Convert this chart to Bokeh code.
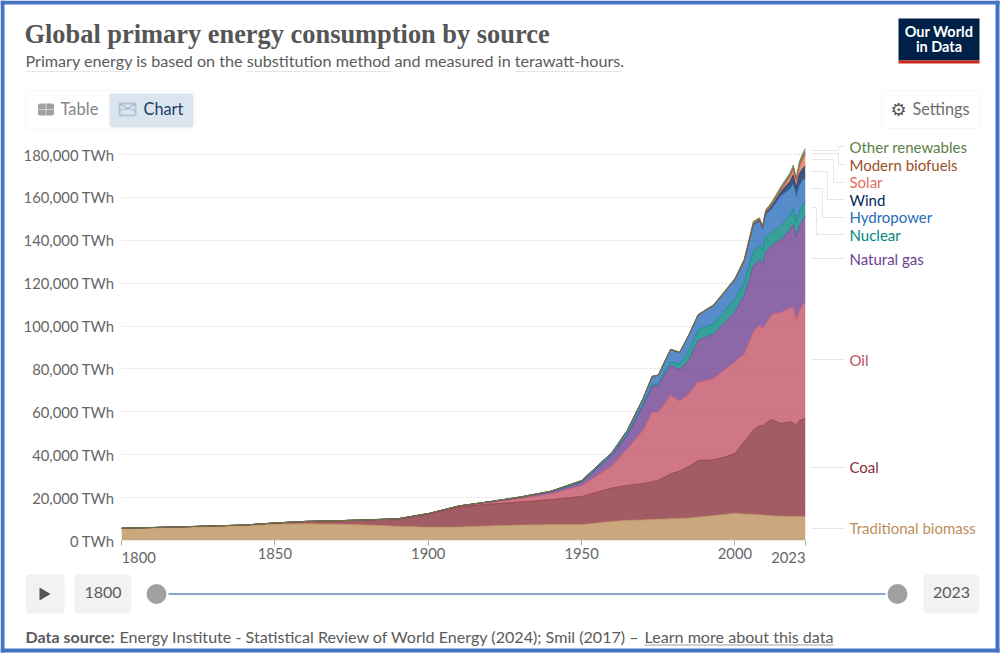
from bokeh.plotting import figure
from bokeh.layouts import column
from bokeh.models import (ColumnDataSource, Range1d, FixedTicker, Label, BoxAnnotation, PolyAnnotation)
from bokeh.embed import file_html
from bokeh.resources import INLINE

years = [1800,1820,1840,1850,1860,1870,1880,1890,1900,1910,1920,1930,1940,1950,1960,1965,1970,1973,1975,1979,1982,1985,1988,1993,1997,2000,2003,2006,2008,2009,2010,2012,2015,2018,2019,2020,2021,2022,2023]
biomass = [5600,6200,6900,7600,7800,7600,7200,6600,6200,6300,6800,7200,7400,7400,8900,9400,9600,9800,9900,10100,10300,10500,11000,11600,12200,12700,12400,12200,12000,11900,11800,11500,11300,11200,11200,11200,11200,11200,11200]
coal = [100,200,300,570,1100,1600,2400,3400,6100,9300,10200,10700,11700,13100,15600,16300,16900,17600,18100,20900,22100,24000,26300,26000,26800,27900,33600,39300,41500,41600,42900,44900,43200,44100,43600,42500,44800,45300,45700]
oil = [0,0,0,0,0,10,30,90,180,350,800,1700,2700,5100,10500,17300,24900,32500,31900,36700,32700,34000,36600,37900,41200,42600,41000,46000,47000,45500,46300,49100,52000,53200,54200,49500,51000,53500,54600]
gas = [0,0,0,0,0,0,10,30,60,150,230,550,900,1600,5000,6500,11400,12000,12500,14000,14600,15500,19500,20700,21800,23300,27000,30500,30300,29500,33400,31900,33700,36500,38200,38500,39500,39000,40000]
nuclear = [0,0,0,0,0,0,0,0,0,0,0,0,0,0,0,100,300,600,800,1600,2500,4500,4800,5000,5700,6200,6200,7000,6800,6700,7000,6300,6600,7000,7400,7000,7200,6900,6900]
hydro = [0,0,0,0,0,0,0,0,10,30,80,150,300,700,1200,2000,3000,4000,3900,5800,5500,7400,7000,8400,8800,9000,10000,12000,11200,10000,10500,11000,14000,12000,11800,11800,12000,12000,10800]
wind = [0,0,0,0,0,0,0,0,0,0,0,0,0,0,0,0,0,0,0,0,0,0,0,10,30,100,200,600,800,800,1000,1500,1900,3500,4000,4000,5200,5500,5500]
solar = [0,0,0,0,0,0,0,0,0,0,0,0,0,0,0,0,0,0,0,0,0,0,0,0,0,0,5,30,40,50,90,300,500,1800,2200,2700,3200,4000,5000]
biofuels = [0,0,0,0,0,0,0,0,0,0,0,0,0,0,0,0,0,0,0,20,30,50,50,60,80,100,150,400,400,300,500,550,800,1000,1100,1000,1100,1200,1300]
other = [0,0,0,0,0,0,0,0,0,0,0,0,0,20,40,50,60,70,70,80,100,150,200,250,300,400,600,800,500,500,700,800,1100,1300,1400,1300,1500,1600,2000]

series_names = ["Traditional biomass","Coal","Oil","Natural gas","Nuclear","Hydropower","Wind","Solar","Modern biofuels","Other renewables"]
series_colors = ["#BC8E5A","#883039","#C15065","#6D3E91","#00847E","#286BBB","#00295B","#E56E5A","#9A5129","#578145"]
y_ticks = [0,20000,40000,60000,80000,100000,120000,140000,160000,180000]
y_tick_labels = ["0 TWh","20,000 TWh","40,000 TWh","60,000 TWh","80,000 TWh","100,000 TWh","120,000 TWh","140,000 TWh","160,000 TWh","180,000 TWh"]
x_ticks = [1800,1850,1900,1950,2000,2023]

FONT = "Lato"
GREY = "#666666"

# page furniture: a full-window figure whose scale is the pixel grid of the window
bg = figure(width=1000, height=653, output_backend="svg", toolbar_location=None,
            x_range=Range1d(0,1000), y_range=Range1d(653,0), x_axis_type=None, y_axis_type=None,
            min_border=0, min_border_left=0, min_border_right=0, min_border_top=0, min_border_bottom=0,
            outline_line_color=None, margin=(0,0,0,0), frame_align=False)
bg.xgrid.visible = False
bg.ygrid.visible = False

# the chart itself, transparent, laid over the furniture
source = ColumnDataSource(dict(zip(["year"]+series_names,[years,biomass,coal,oil,gas,nuclear,hydro,wind,solar,biofuels,other])))
p = figure(width=1000, height=653, output_backend="svg", toolbar_location=None,
           x_range=Range1d(1800,2023), y_range=Range1d(0,185130),
           min_border_left=121, min_border_right=195, min_border_top=143, min_border_bottom=113,
           margin=(-653,0,0,0), outline_line_color=None, background_fill_color=None, border_fill_color=None,
           frame_align=False)

p.varea_stack(stackers=series_names, x="year", color=series_colors, fill_alpha=0.78, source=source)
p.vline_stack(stackers=series_names, x="year", color=series_colors, line_width=0.8, line_alpha=0.9, source=source)

p.xgrid.visible = False
p.ygrid.ticker = FixedTicker(ticks=y_ticks[1:])
p.ygrid.grid_line_color = "#dddddd"
p.ygrid.grid_line_dash = "2 2"
p.ygrid.level = "underlay"

ya = p.yaxis[0]
ya.ticker = FixedTicker(ticks=y_ticks)
ya.major_label_overrides = {t:l for t,l in zip(y_ticks,y_tick_labels)}
ya.axis_line_color = None
ya.major_tick_line_color = None
ya.minor_tick_line_color = None
ya.major_tick_in = 0
ya.major_tick_out = 0
ya.major_label_text_font = FONT
ya.major_label_text_font_size = "14.8px"
ya.major_label_text_color = GREY
ya.major_label_standoff = 7

xa = p.xaxis[0]
xa.ticker = FixedTicker(ticks=x_ticks)
xa.major_label_overrides = {1800:"",2023:""}
xa.axis_line_color = None
xa.major_tick_line_color = "#a8a8a8"
xa.minor_tick_line_color = None
xa.major_tick_in = 0
xa.major_tick_out = 5
xa.major_label_text_font = FONT
xa.major_label_text_font_size = "14.8px"
xa.major_label_text_color = GREY
xa.major_label_standoff = 2


def label(x, y, text, color=GREY, size=15, font=FONT, style="normal", align="left"):
    bg.add_layout(Label(x=x, y=y-1, text=text, text_color=color,
                        text_font=font, text_font_size=f"{size}px", text_font_style=style,
                        text_align=align, text_baseline="middle"))


def box(x0, y0, x1, y1, fill="#f2f2f2", line=None, radius=0):
    bg.add_layout(BoxAnnotation(left=x0, right=x1, top=y0, bottom=y1, fill_color=fill, fill_alpha=1,
                                line_color=line, line_width=1, border_radius=radius, level="underlay"))


def path(xs, ys, color="#cfcfcf", dash="solid", width=1.0):
    bg.add_layout(PolyAnnotation(xs=xs+xs[::-1], ys=ys+ys[::-1], fill_alpha=0,
                                 line_color=color, line_dash=dash, line_width=width, level="annotation"))

# frame of the screenshot
BLUE = "#4472C4"
box(0,0,999,4,BLUE); box(0,0,4,652,BLUE); box(995,0,999,652,BLUE); box(0,648,999,652,BLUE)

# header
label(24,34.5,"Global primary energy consumption by source","#555555",26.4,"Liberation Serif","bold")
label(25,61,"Primary energy is based on the substitution method and measured in terawatt-hours.","#5b5b5b",16.15)
path([25,131],[71,71],"#777777","1 2"); path([246,390],[71,71],"#777777","1 2"); path([515,621],[71,71],"#777777","1 2")

# logo
box(898,18,979,60,"#002147"); box(898,60,979,63,"#CE261E")
label(938.5,32,"Our World","#ffffff",14.5,FONT,"bold","center")
label(938.5,47,"in Data","#ffffff",14.5,FONT,"bold","center")

# tabs
box(25,90,195,129,"#ffffff","#e2e2e2",4)
box(109,93,193,127,"#dbe5f0",None,2)
label(60,109,"Table","#858585",16.5)
label(143,109,"Chart","#1d3d63",16.3)
box(37.5,103,53.5,115,"#a0a0a0",None,2)
path([37.5,53.5],[109,109],"#ffffff"); path([45.5,45.5],[103,115],"#ffffff")
path([119,135,135,119,119],[103,103,115,115,103],"#5f7fa3",width=2)
path([119,127,135],[103,108,103],"#5f7fa3",width=1.5); path([119,127,135],[110,108,110],"#5f7fa3",width=1.5)
box(881,90,979,128,"#ffffff","#e2e2e2",4)
label(898,109.5,"\u2699","#555555",18,"DejaVu Sans","bold","center")
label(912,109,"Settings","#6e6e6e",16.3)

# leader lines and series labels
leaders = [([811,838,838,844],[150,150,146,146]),([811,838,838,844],[153,153,164,164]),
           ([811,833,833,844],[159,159,182,182]),([811,827,827,844],[171,171,199,199]),
           ([811,822,822,844],[188,188,217,217]),([811,816,816,844],[207,207,234,234]),
           ([811,844],[258,258]),([811,844],[359,359]),([811,844],[467,467]),([811,844],[528,528])]
for xs, ys in leaders:
    path(xs, ys)
label_ys = [528,467.5,360,259,235,217.5,200,182.5,165,147.5]
for name, col, y in zip(series_names, series_colors, label_ys):
    label(849,y,name,col)

# end tick labels of the time axis
label(121,557.5,"1800",GREY,14.8)
label(805,557.5,"2023",GREY,14.8,align="right")

# timeline
box(25,574,64,613,"#f2f2f2",None,4)
bg.add_layout(PolyAnnotation(xs=[39,39,50],ys=[587,600,593.5],fill_color="#555555",fill_alpha=1,line_color=None,level="annotation"))
box(74,574,131,613,"#f2f2f2",None,4)
label(102.5,593,"1800","#5b5b5b",16,FONT,"normal","center")
box(168,592.5,885,594.5,"#8ba5c6")
box(146,583.5,166,603.5,"#a0a0a0",None,10)
box(887,583.5,907,603.5,"#a0a0a0",None,10)
box(923,574,979,613,"#f2f2f2",None,4)
label(951,593,"2023","#5b5b5b",16,FONT,"normal","center")

# footer
label(25,637,"Data source:","#5b5b5b",16,FONT,"bold")
label(119,637,"Energy Institute - Statistical Review of World Energy (2024); Smil (2017) \u2013","#5b5b5b",16.1)
label(644,637,"Learn more about this data","#5b5b5b",16.1)
path([644,833],[644.5,644.5],"#5b5b5b")

page = column(bg, p, spacing=0, margin=(0,0,0,0))
open("out.html","w").write(file_html(page, INLINE))
